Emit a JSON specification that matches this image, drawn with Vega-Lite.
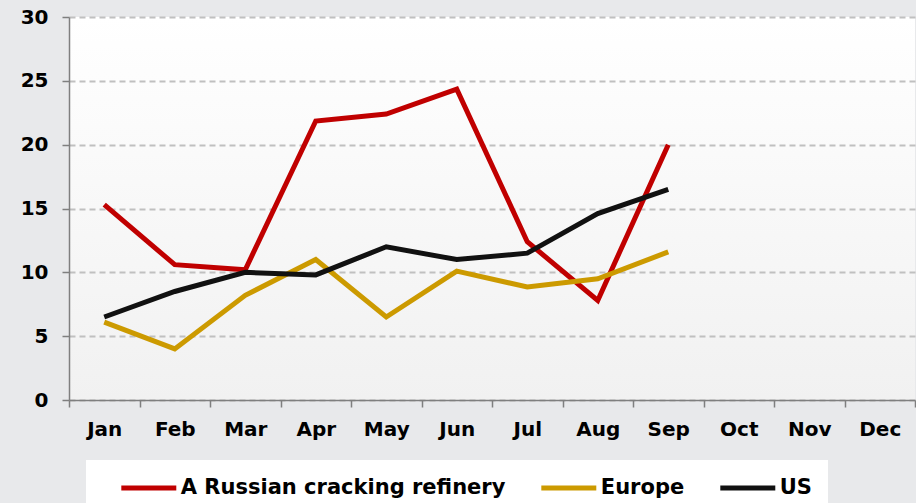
{
  "$schema": "https://vega.github.io/schema/vega-lite/v6.json",
  "width": 846,
  "height": 383,
  "autosize": "none",
  "padding": {"left": 69, "top": 17, "right": 1, "bottom": 103},
  "background": "#e8e9eb",
  "config": {
    "font": "DejaVu Sans",
    "view": {
      "stroke": null,
      "fill": {"gradient": "linear", "x1": 0, "y1": 0, "x2": 0, "y2": 1,
        "stops": [{"offset": 0, "color": "#ffffff"}, {"offset": 1, "color": "#f1f1f1"}]}
    }
  },
  "data": {
    "values": [
      {"month": "Jan", "series": "A Russian cracking refinery", "value": 15.3},
      {"month": "Feb", "series": "A Russian cracking refinery", "value": 10.6},
      {"month": "Mar", "series": "A Russian cracking refinery", "value": 10.2},
      {"month": "Apr", "series": "A Russian cracking refinery", "value": 21.85},
      {"month": "May", "series": "A Russian cracking refinery", "value": 22.4},
      {"month": "Jun", "series": "A Russian cracking refinery", "value": 24.35},
      {"month": "Jul", "series": "A Russian cracking refinery", "value": 12.4},
      {"month": "Aug", "series": "A Russian cracking refinery", "value": 7.8},
      {"month": "Sep", "series": "A Russian cracking refinery", "value": 20.0},
      {"month": "Jan", "series": "Europe", "value": 6.1},
      {"month": "Feb", "series": "Europe", "value": 4.0},
      {"month": "Mar", "series": "Europe", "value": 8.2},
      {"month": "Apr", "series": "Europe", "value": 11.0},
      {"month": "May", "series": "Europe", "value": 6.5},
      {"month": "Jun", "series": "Europe", "value": 10.1},
      {"month": "Jul", "series": "Europe", "value": 8.85},
      {"month": "Aug", "series": "Europe", "value": 9.5},
      {"month": "Sep", "series": "Europe", "value": 11.6},
      {"month": "Jan", "series": "US", "value": 6.5},
      {"month": "Feb", "series": "US", "value": 8.5},
      {"month": "Mar", "series": "US", "value": 10.0},
      {"month": "Apr", "series": "US", "value": 9.8},
      {"month": "May", "series": "US", "value": 12.0},
      {"month": "Jun", "series": "US", "value": 11.0},
      {"month": "Jul", "series": "US", "value": 11.5},
      {"month": "Aug", "series": "US", "value": 14.6},
      {"month": "Sep", "series": "US", "value": 16.5}
    ]
  },
  "mark": {"type": "line", "strokeWidth": 5},
  "encoding": {
    "x": {
      "field": "month",
      "type": "ordinal",
      "scale": {
        "type": "band",
        "domain": ["Jan", "Feb", "Mar", "Apr", "May", "Jun", "Jul", "Aug", "Sep", "Oct", "Nov", "Dec"],
        "paddingInner": 0,
        "paddingOuter": 0
      },
      "axis": {
        "title": null,
        "labelAngle": 0,
        "tickBand": "extent",
        "grid": false,
        "labelFontSize": 20,
        "labelFontWeight": "bold",
        "labelColor": "#000000",
        "labelPadding": 12,
        "tickSize": 7,
        "tickColor": "#7f7f7f",
        "tickWidth": 1.5,
        "domainColor": "#7f7f7f",
        "domainWidth": 1.5
      }
    },
    "y": {
      "field": "value",
      "type": "quantitative",
      "scale": {"domain": [0, 30], "nice": false, "zero": true},
      "axis": {
        "title": null,
        "values": [0, 5, 10, 15, 20, 25, 30],
        "grid": true,
        "gridDash": [6, 4],
        "gridColor": "#c0c0c0",
        "gridWidth": 2,
        "labelFontSize": 20,
        "labelFontWeight": "bold",
        "labelColor": "#000000",
        "labelPadding": 14,
        "tickSize": 7,
        "tickColor": "#7f7f7f",
        "tickWidth": 1.5,
        "domainColor": "#7f7f7f",
        "domainWidth": 1.5
      }
    },
    "color": {
      "field": "series",
      "type": "nominal",
      "scale": {
        "domain": ["A Russian cracking refinery", "Europe", "US"],
        "range": ["#c00000", "#cc9a00", "#111111"]
      },
      "legend": {
        "title": null,
        "orient": "none",
        "direction": "horizontal",
        "legendX": 17,
        "legendY": 443,
        "fillColor": "#ffffff",
        "padding": 16,
        "symbolType": "M-3,0H3",
        "symbolSize": 336,
        "symbolStrokeWidth": 5,
        "symbolOffset": 34.8,
        "labelFontSize": 21,
        "labelFontWeight": "bold",
        "labelColor": "#000000",
        "labelOffset": 20,
        "columnPadding": 16,
        "labelLimit": 0
      }
    }
  }
}
